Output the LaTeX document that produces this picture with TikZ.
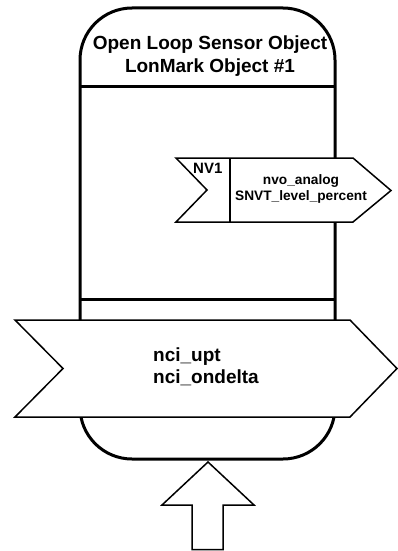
\documentclass[tikz,border=0pt]{standalone}
\usepackage{fontspec}
\setmainfont{Liberation Sans}
\begin{document}
\begin{tikzpicture}[x=1pt,y=-1pt,
  wall/.style={draw=black,line width=3pt,fill=white},
  arrowshape/.style={draw=black,line width=1.5pt,fill=white,line join=miter},
  bigtext/.style={font=\bfseries\fontsize{19}{22.5}\selectfont,inner sep=0pt},
  smalltext/.style={font=\bfseries\fontsize{13.7}{15.5}\selectfont,inner sep=0pt},
  nvtext/.style={font=\bfseries\fontsize{15}{17}\selectfont,inner sep=0pt}]
\useasboundingbox (0,0) rectangle (398,551);
% main object body
\draw[wall,rounded corners=52pt] (80,8) rectangle (335,459);
\draw[line width=3pt] (80,86) -- (335,86);
\draw[line width=3pt] (80,299) -- (335,299);
\node[bigtext,align=center] (title) at (210,56) {Open Loop Sensor Object\\LonMark Object \#1};
% NV1 output arrow
\draw[arrowshape] (176,158) -- (353,158) -- (391,190.5) -- (353,222) -- (176,222) -- (207,190) -- cycle;
\draw[line width=1.5pt] (230,158) -- (230,222);
\node[nvtext,anchor=base west] (nv1) at (193,173) {NV1};
\node[smalltext,align=center] (nvo) at (301,189) {nvo\_analog\\SNVT\_level\_percent};
% config arrow
\draw[arrowshape] (15,320) -- (350,320) -- (397,368.5) -- (350,417) -- (15,417) -- (63,368.5) -- cycle;
\node[bigtext,align=left,anchor=west] (nci) at (153,367) {nci\_upt\\nci\_ondelta};
% input arrow
\draw[arrowshape] (208,462) -- (254,505) -- (223,505) -- (223,549.5) -- (192,549.5) -- (192,505) -- (162,505) -- cycle;
\end{tikzpicture}
\end{document}
